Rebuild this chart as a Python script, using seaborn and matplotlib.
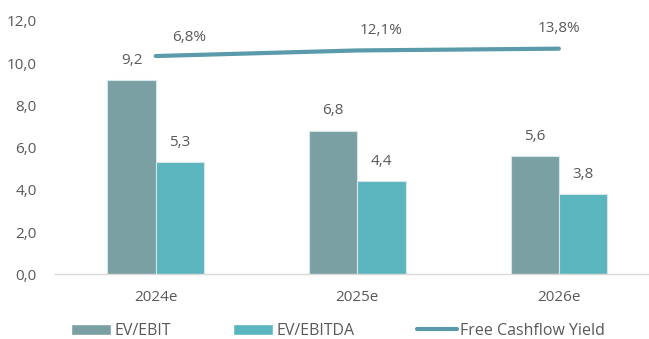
import numpy as np
import pandas as pd
import matplotlib
matplotlib.use("Agg")
import matplotlib.pyplot as plt
import seaborn as sns
from matplotlib.patches import Patch
from matplotlib.lines import Line2D

years = ["2024e", "2025e", "2026e"]
ev_ebit = [9.2, 6.8, 5.6]
ev_ebitda = [5.3, 4.4, 3.8]
fcf_yield = [6.8, 12.1, 13.8]
series_names = ["EV/EBIT", "EV/EBITDA"]
line_name = "Free Cashflow Yield"
yticks = [0, 2, 4, 6, 8, 10, 12]

sns.set_theme(style="white")
plt.rcParams['font.family'] = ['Open Sans', 'DejaVu Sans']
txt = "#595959"
fs = 11

df = pd.DataFrame({
    "year": years * 2,
    "value": ev_ebit + ev_ebitda,
    "series": [series_names[0]] * 3 + [series_names[1]] * 3,
})

fig = plt.figure(figsize=(6.49, 3.39), dpi=100)
ax = fig.add_axes([55 / 649, (339 - 274.3) / 339, (649 - 55) / 649, (274.3 - 21) / 339])

colors = ["#7AA0A3", "#5BB5BE"]
sns.barplot(data=df, x="year", y="value", hue="series", palette=colors,
            width=0.48, ax=ax, edgecolor="#D5E6E8", linewidth=0.8, legend=False,
            saturation=1)

for cont in ax.containers:
    ax.bar_label(cont, labels=[f"{v:.1f}".replace(".", ",") for v in cont.datavalues],
                 padding=9, color=txt, fontsize=fs)

ax.set_ylim(0, 12)
ax.set_xlim(-0.5, 2.447)
ax.set_yticks(yticks)
ax.set_yticklabels([f"{v:.1f}".replace(".", ",") for v in yticks], color=txt, fontsize=fs)
ax.tick_params(axis="y", length=0, pad=13)
ax.tick_params(axis="x", length=0, pad=11, labelcolor=txt, labelsize=fs)
ax.set_xlabel("")
ax.set_ylabel("")
for s in ["top", "right", "left"]:
    ax.spines[s].set_visible(False)
ax.spines["bottom"].set_color("#D9D9D9")
ax.spines["bottom"].set_linewidth(1.0)

ax2 = ax.twinx()
xpos = np.arange(len(years))
sns.lineplot(x=xpos, y=fcf_yield, ax=ax2, color="#5A9AAA", linewidth=3, sort=False,
             solid_capstyle="round")
ax2.set_ylim(-200, 40)
ax2.set_yticks([])
ax2.set_ylabel("")
for s in ax2.spines.values():
    s.set_visible(False)

offsets = [(24, 13), (17, 14.5), (0, 14.5)]
for x, v, off in zip(xpos, fcf_yield, offsets):
    ax2.annotate(f"{v:.1f}%".replace(".", ","), (x, v), xytext=off, textcoords="offset points",
                 ha="center", va="center", color=txt, fontsize=fs)

handles = [Patch(facecolor=colors[0]), Patch(facecolor=colors[1]),
           Line2D([0], [0], color="#5A9AAA", lw=3, solid_capstyle="round")]
fig.legend(handles, series_names + [line_name], loc="center", ncol=3,
           bbox_to_anchor=(338 / 649, (339 - 331) / 339), frameon=False,
           handlelength=2.5, handleheight=0.7, handletextpad=0.2, columnspacing=3.9,
           labelcolor=txt, fontsize=11.5)

fig.savefig("out.png", dpi=100)
